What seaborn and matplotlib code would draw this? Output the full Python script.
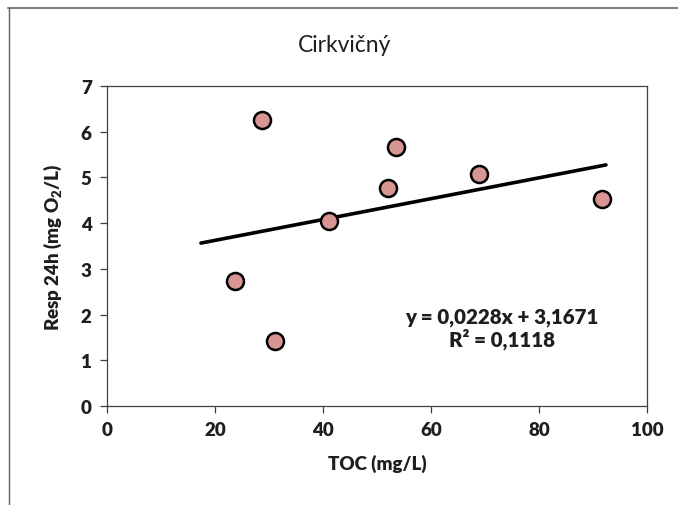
import numpy as np
import pandas as pd
import matplotlib
matplotlib.use("Agg")
import matplotlib.pyplot as plt
from matplotlib.lines import Line2D
import seaborn as sns

# data
toc = [23.7, 28.7, 31.1, 41.1, 52.0, 53.5, 68.9, 91.7]
resp = [2.73, 6.26, 1.42, 4.05, 4.77, 5.67, 5.08, 4.53]

# Excel linear trendline
slope = 0.0228
intercept = 3.1671
trend_x = [17.4, 92.4]
r2_label = "0,1118"

x_ticks = [0, 20, 40, 60, 80, 100]
y_ticks = [0, 1, 2, 3, 4, 5, 6, 7]

df = pd.DataFrame({"TOC": toc, "Resp": resp})
df_trend = pd.DataFrame({"TOC": trend_x})
df_trend["Resp"] = intercept + slope * df_trend.TOC

BOLD = "heavy"   # Lato 700 is quite light, 800 is closer to Calibri bold
TXT = "#1e1e1e"

sns.set_theme(style="white")
plt.rcParams['font.family'] = ['Lato', 'DejaVu Sans']
plt.rcParams['mathtext.fontset'] = 'custom'
plt.rcParams['mathtext.rm'] = 'Lato:weight=heavy'
plt.rcParams['mathtext.bf'] = 'Lato:weight=heavy'
plt.rcParams['mathtext.it'] = 'Lato:weight=heavy'

fig = plt.figure(figsize=(6.78, 5.06), dpi=100)
ax = fig.add_axes([107/678, 1 - 407/506, 540/678, 320/506])

sns.lineplot(data=df_trend, x="TOC", y="Resp", ax=ax, color="black", lw=2.6, zorder=2)
sns.scatterplot(data=df, x="TOC", y="Resp", ax=ax, s=150, color="#d99594",
                edgecolor="black", linewidth=1.8, zorder=3)

ax.set_xlim(0, 100)
ax.set_ylim(0, 7)
ax.set_xticks(x_ticks)
ax.set_yticks(y_ticks)
ax.set_xticklabels([str(v) for v in x_ticks], fontsize=13.5, fontweight=BOLD, color=TXT)
ax.set_yticklabels([str(v) for v in y_ticks], fontsize=13.5, fontweight=BOLD, color=TXT)
for s in ax.spines.values():
    s.set_color("#404040")
    s.set_linewidth(0.9)
ax.tick_params(direction="out", length=5, width=0.9, color="#404040",
               pad=6, bottom=True, left=True)

ax.set_xlabel("TOC (mg/L)", fontsize=13.5, fontweight=BOLD, color=TXT, labelpad=11)
ax.set_ylabel(r"Resp 24h (mg O$_{2}$/L)", fontsize=13.5, fontweight=BOLD, color=TXT, labelpad=12)

ax.text(73.1, 1.7, "y = 0,0228x + 3,1671\nR² = " + r2_label, ha="center", va="center",
        fontsize=14.8, fontweight=BOLD, color=TXT, linespacing=1.1)

fig.text(345/678, 1 - 45/506, "Cirkvičný", ha="center", va="center", fontsize=16.5,
         fontweight="normal", color=TXT)

# chart-area border (cropped)
fig.add_artist(Line2D([8/678, 1], [1 - 9/506, 1 - 9/506], transform=fig.transFigure,
                      color="#808080", lw=1.5))
fig.add_artist(Line2D([9/678, 9/678], [0, 1 - 9/506], transform=fig.transFigure,
                      color="#606060", lw=1.0))

fig.savefig("out.png", dpi=100)
